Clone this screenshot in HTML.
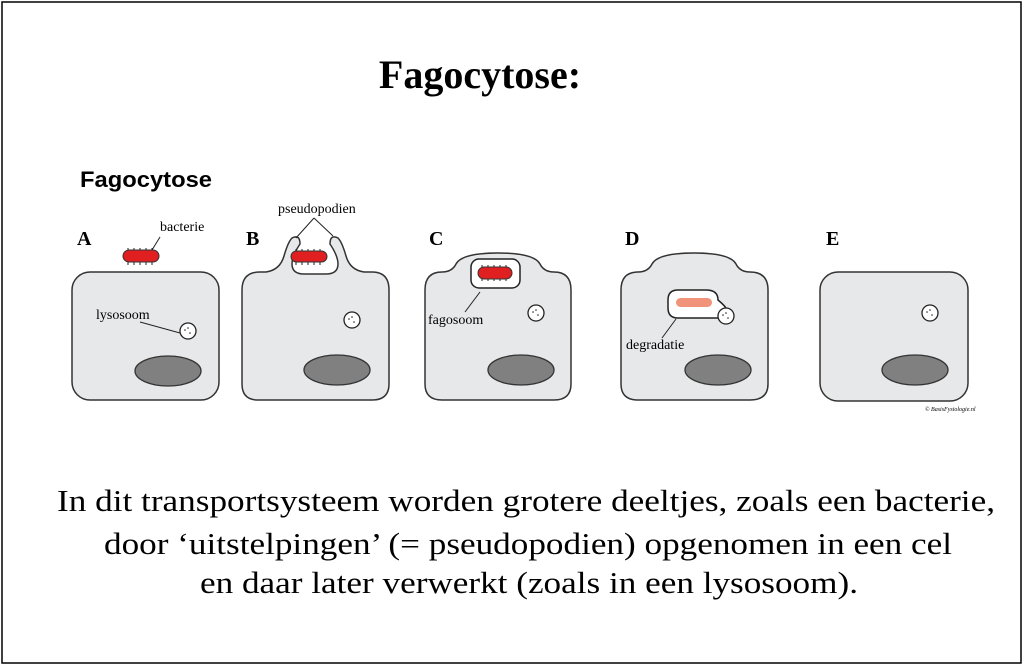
<!DOCTYPE html>
<html><head><meta charset="utf-8"><style>html,body{margin:0;padding:0;background:#fff}svg{display:block}</style></head>
<body>
<svg width="1024" height="666" viewBox="0 0 1024 666" xmlns="http://www.w3.org/2000/svg" font-family="Liberation Serif, serif">
<rect x="2" y="2" width="1019" height="661" fill="#fff" stroke="#000" stroke-width="1.5"/>
<text x="480" y="88" font-size="40" font-weight="bold" text-anchor="middle">Fagocytose:</text>
<text x="80" y="187" font-size="22" font-weight="bold" font-family="Liberation Sans, sans-serif" textLength="132" lengthAdjust="spacingAndGlyphs">Fagocytose</text>
<g font-size="20" font-weight="bold">
<text x="77" y="245">A</text><text x="246" y="245">B</text><text x="429" y="245">C</text><text x="625" y="245">D</text><text x="826" y="245">E</text>
</g>
<g stroke="#333" stroke-width="1.5" fill="#e7e8e9">
<rect x="72" y="272" width="147" height="128" rx="18"/>
<path d="M242 290 Q242 272 260 272 L266 272 Q280 270 284 256 Q288 242 292 238 Q300 234 300 244 Q292 256 292 264 Q292 274 304 274 L326 274 Q338 274 338 264 Q338 256 330 244 Q330 234 338 238 Q342 242 346 256 Q350 270 364 272 L372 272 Q389 272 389 290 L389 384 Q389 400 372 400 L258 400 Q242 400 242 384 Z"/>
<path d="M425 290 Q425 272 442 272 Q452 272 456 264 Q462 253 498 253 Q534 253 540 264 Q544 272 554 272 Q571 272 571 290 L571 384 Q571 400 554 400 L442 400 Q425 400 425 384 Z"/>
<path d="M621 290 Q621 272 638 272 Q648 272 652 264 Q658 253 694 253 Q730 253 736 264 Q740 272 750 272 Q768 272 768 290 L768 384 Q768 400 750 400 L638 400 Q621 400 621 384 Z"/>
<rect x="820" y="272" width="148" height="129" rx="18"/>
</g>
<g fill="#808080" stroke="#333" stroke-width="1.3">
<ellipse cx="168" cy="371" rx="33" ry="15"/><ellipse cx="337" cy="370" rx="33" ry="15"/>
<ellipse cx="521" cy="370" rx="33" ry="15"/><ellipse cx="718" cy="370" rx="33" ry="15"/>
<ellipse cx="915" cy="370" rx="33" ry="15"/>
</g>
<rect x="471" y="259" width="49" height="29" rx="8" fill="#fff" stroke="#222" stroke-width="1.5"/>
<path d="M668 300 Q668 290 678 290 L706 290 Q718 290 718 300 Q724 305 726 308 L726 318 Q716 318 710 318 L678 318 Q668 318 668 308 Z" fill="#fff" stroke="#222" stroke-width="1.5"/>
<g fill="#fff" stroke="#222" stroke-width="1.3">
<circle cx="188" cy="331" r="8"/><circle cx="352" cy="320" r="8"/><circle cx="536" cy="313" r="8"/><circle cx="726" cy="316" r="8"/><circle cx="930" cy="313" r="8"/>
</g>
<g fill="#222">
<circle cx="185" cy="330" r=".8"/><circle cx="190" cy="333" r=".8"/><circle cx="188" cy="328" r=".8"/>
<circle cx="349" cy="319" r=".8"/><circle cx="354" cy="322" r=".8"/><circle cx="352" cy="317" r=".8"/>
<circle cx="533" cy="312" r=".8"/><circle cx="538" cy="315" r=".8"/><circle cx="536" cy="310" r=".8"/>
<circle cx="723" cy="315" r=".8"/><circle cx="728" cy="318" r=".8"/><circle cx="726" cy="313" r=".8"/>
<circle cx="927" cy="312" r=".8"/><circle cx="932" cy="315" r=".8"/><circle cx="930" cy="310" r=".8"/>
</g>
<g stroke="#222" stroke-width="1">
<path d="M128 248v3M134 248v3M140 248v3M146 248v3M152 248v3M128 262v3M134 262v3M140 262v3M146 262v3M152 262v3"/>
<path d="M296 249v3M302 249v3M308 249v3M314 249v3M320 249v3M296 262v3M302 262v3M308 262v3M314 262v3M320 262v3"/>
<path d="M482 265v3M488 265v3M494 265v3M500 265v3M506 265v3M482 278v3M488 278v3M494 278v3M500 278v3M506 278v3"/>
</g>
<g stroke="#333" stroke-width="1">
<rect x="123" y="250" width="36" height="12" rx="6" fill="#e02020"/>
<rect x="291" y="251" width="36" height="11" rx="5.5" fill="#e02020"/>
<rect x="478" y="267" width="34" height="12" rx="6" fill="#e02020"/>
<rect x="676" y="298" width="36" height="9" rx="4.5" fill="#f0937a" stroke="none"/>
</g>
<g stroke="#222" stroke-width="1" fill="none">
<path d="M160 237 L152 250"/><path d="M140 322 L180 333"/>
<path d="M314 218 L296 238M314 218 L333 236"/>
<path d="M480 292 L465 312"/><path d="M676 319 L662 338"/>
</g>
<g font-size="14">
<text x="160" y="231">bacterie</text>
<text x="96" y="319">lysosoom</text>
<text x="278" y="213">pseudopodien</text>
<text x="428" y="324">fagosoom</text>
<text x="626" y="349">degradatie</text>
</g>
<text x="925" y="411" font-size="6" font-style="italic">© BasisFysiologie.nl</text>
<g font-size="31">
<text x="57" y="511" textLength="938" lengthAdjust="spacingAndGlyphs">In dit transportsysteem worden grotere deeltjes, zoals een bacterie,</text>
<text x="104" y="554" textLength="848" lengthAdjust="spacingAndGlyphs">door ‘uitstelpingen’ (= pseudopodien) opgenomen in een cel</text>
<text x="200" y="593" textLength="658" lengthAdjust="spacingAndGlyphs">en daar later verwerkt (zoals in een lysosoom).</text>
</g>
</svg>
</body></html>
